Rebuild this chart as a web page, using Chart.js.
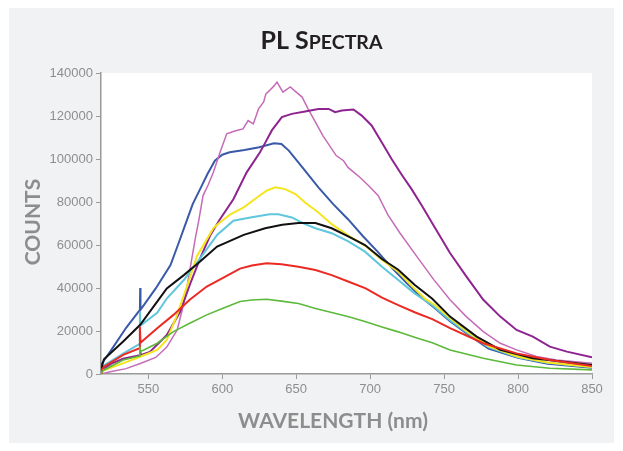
<!DOCTYPE html>
<html>
<head>
<meta charset="utf-8">
<script src="https://cdn.jsdelivr.net/npm/chart.js@4.4.0/dist/chart.umd.min.js"></script>
<style>
html, body { margin: 0; padding: 0; background: #fff; }
</style>
</head>
<body>
<canvas id="plSpectra" width="623" height="451"></canvas>
<script>
// tick values
const xTicks = [550, 600, 650, 700, 750, 800, 850];
const yTicks = [0, 20000, 40000, 60000, 80000, 100000, 120000, 140000];

// spectra (wavelength nm / counts)
const blueNm = [518, 518.7, 525, 535, 544.3, 544.5, 544.7, 555, 565, 570, 575, 580, 585, 590, 595, 600, 605, 615, 625, 635, 640, 645, 655, 665, 675, 685, 695, 705, 715, 725, 735, 744, 754, 765, 780, 800, 820, 850];
const blueCounts = [0, 5000, 11200, 21500, 29800, 40000, 29800, 39800, 50700, 60000, 69500, 79000, 86000, 93000, 99200, 102000, 103100, 104200, 105500, 107300, 107000, 103900, 95400, 86800, 79000, 72000, 64200, 56900, 49100, 42100, 35500, 30500, 24500, 19000, 11800, 7500, 4800, 2900];

const pinkNm = [518, 525, 535, 545, 555, 562.5, 569.5, 573, 576, 579, 582, 584, 587, 590.5, 594, 598.5, 603, 607.5, 611, 614, 617.5, 621, 624.5, 628, 629.5, 632, 635, 637, 641, 646, 650, 654, 658, 663, 668, 674, 677, 682, 685, 689, 693, 699, 705.5, 709, 712, 720, 731.5, 743, 754, 765, 776.5, 788, 799, 812.5, 826, 850];
const pinkCounts = [0, 1200, 2500, 5000, 7700, 12500, 20500, 30000, 40000, 52000, 64000, 71000, 83000, 88000, 93800, 103100, 111700, 112800, 113500, 114000, 117900, 116300, 123300, 126500, 130300, 131900, 134000, 135800, 131100, 133500, 131100, 128800, 123300, 117100, 110900, 104700, 101600, 99200, 96100, 93800, 91500, 87600, 82900, 78100, 74000, 65700, 54700, 43900, 34500, 26700, 19700, 14300, 11200, 8100, 6500, 5000];

const purpleNm = [518, 519, 525, 533, 544.3, 544.5, 544.7, 551, 562.5, 571.5, 578, 585, 592, 598, 607.5, 616.5, 625.5, 629, 633.5, 640.3, 647, 656, 665, 672, 676.3, 680.8, 688.7, 694.3, 701, 707.8, 714.5, 721, 728, 735, 743, 754, 765, 776.5, 788, 799, 810, 821.5, 833, 850];
const purpleCounts = [0, 2000, 4800, 7100, 8700, 10500, 8700, 10300, 18100, 28900, 41400, 53800, 64700, 71500, 81300, 93800, 103100, 107500, 113300, 119500, 121000, 122100, 123300, 123300, 121800, 122600, 123000, 120200, 115600, 107800, 100000, 93000, 86000, 78300, 69000, 56300, 45400, 34500, 26700, 20500, 17400, 12700, 10400, 7800];

const yellowNm = [518, 519, 525, 535, 544.5, 556, 562.5, 569, 577, 583, 589, 594, 597.5, 605.5, 614.5, 623.5, 630, 636, 642.5, 649.5, 656, 665, 674, 685, 697, 708, 719, 728, 737, 744, 754, 765, 780, 800, 820, 850];
const yellowCounts = [0, 1500, 3000, 5500, 8000, 11200, 15900, 26700, 42500, 55000, 62000, 67800, 70000, 74300, 77500, 82100, 85300, 86800, 86000, 83700, 79800, 75100, 69700, 64500, 59500, 53000, 47600, 41000, 35100, 32000, 26000, 20000, 13000, 8000, 5300, 3300];

const cyanNm = [518, 519, 520, 533, 544, 544.3, 544.7, 556, 562.5, 574, 585, 596.5, 607.5, 619, 632, 638, 647, 656, 663, 674, 685.5, 696.5, 708, 719, 730, 742, 754, 765, 780, 800, 820, 850];
const cyanCounts = [0, 2500, 4000, 9500, 14000, 29000, 22500, 28500, 35100, 43700, 53800, 64700, 71300, 72800, 74300, 74300, 72800, 69700, 67800, 65500, 61600, 56900, 49900, 43700, 37500, 32000, 25000, 19500, 12500, 7800, 5200, 3200];

const blackNm = [518, 519, 520, 533, 544.5, 555, 562.5, 574, 585, 596.5, 614.5, 629, 640.5, 651.5, 663, 674, 685.5, 696.5, 708, 719, 730, 742, 754, 772, 788, 810, 850];
const blackCounts = [0, 4500, 6800, 15100, 22900, 32700, 39800, 46000, 52300, 59300, 64700, 67800, 69400, 70200, 70200, 67800, 63900, 60000, 53500, 48500, 41500, 35000, 26700, 17400, 11200, 7300, 4200];

const redNm = [518, 518.5, 520, 533, 544, 544.3, 544.7, 547, 556, 567, 578, 589.5, 600.5, 612, 620, 630, 640, 651.5, 663, 674, 685.5, 697, 708, 719, 730.5, 742, 754, 776.5, 799, 821.5, 850];
const redCounts = [0, 2000, 3400, 8900, 12000, 22100, 14500, 15900, 21300, 27500, 34500, 40700, 44700, 49000, 50500, 51500, 51000, 49900, 48400, 46000, 42900, 39800, 35500, 32000, 28600, 25500, 21300, 14300, 9600, 6500, 3700];

const greenNm = [518, 518.5, 520, 533, 544, 544.3, 544.7, 547, 556, 567, 578, 589.5, 600.5, 612, 620, 630, 640, 651.5, 663, 674, 685.5, 697, 708, 719, 730.5, 742, 754, 776.5, 799, 821.5, 850];
const greenCounts = [0, 1000, 1900, 6500, 8400, 12700, 10500, 11200, 14300, 19700, 23600, 27500, 30600, 33700, 34400, 34800, 33900, 32800, 30500, 28600, 26600, 24300, 21900, 19600, 17000, 14500, 11200, 7300, 4200, 2700, 1900];

function toPoints(nm, counts) {
    return nm.map((x, i) => ({ x: x, y: counts[i] }));
}

function series(nm, counts, color, width) {
    return {
        data: toPoints(nm, counts),
        borderColor: color,
        borderWidth: width,
        pointRadius: 0,
        tension: 0,
        fill: false
    };
}

const tickColor = '#8e8e8e';
const axisColor = '#9a9a9a';

// backgrounds + titles drawn by hand (small caps title, rotated axis title)
const decor = {
    id: 'decor',
    beforeDraw(chart) {
        const ctx = chart.ctx;
        const a = chart.chartArea;
        ctx.save();
        ctx.fillStyle = '#ffffff';
        ctx.fillRect(0, 0, chart.width, chart.height);
        ctx.fillStyle = '#f1f2f3';
        ctx.fillRect(9, 8, 605, 435);
        ctx.fillStyle = '#ffffff';
        ctx.fillRect(a.left, a.top, a.right - a.left, a.bottom - a.top);
        ctx.restore();
    },
    afterDraw(chart) {
        const ctx = chart.ctx;
        ctx.save();
        // title "PL Spectra" in small caps
        ctx.fillStyle = '#231f20';
        ctx.textBaseline = 'alphabetic';
        const big = 'bold 25px Lato';
        const small = 'bold 19.5px Lato';
        ctx.font = big;
        const w1 = ctx.measureText('PL S').width;
        ctx.font = small;
        const w2 = ctx.measureText('PECTRA').width;
        let x0 = 321.5 - (w1 + w2) / 2;
        ctx.font = big;
        ctx.fillText('PL S', x0, 49);
        ctx.font = small;
        ctx.fillText('PECTRA', x0 + w1, 49);

        // axis titles
        ctx.fillStyle = '#8d8d8d';
        ctx.font = 'bold 21px Lato';
        ctx.textAlign = 'center';
        ctx.fillText('WAVELENGTH (nm)', 333, 428);
        ctx.translate(40, 222);
        ctx.rotate(-Math.PI / 2);
        ctx.fillText('COUNTS', 0, 0);
        ctx.restore();
    }
};

const ctx = document.getElementById('plSpectra').getContext('2d');
new Chart(ctx, {
    type: 'line',
    data: {
        datasets: [
            series(greenNm, greenCounts, '#5cb93a', 1.6),
            series(redNm, redCounts, '#ec2a24', 2),
            series(blackNm, blackCounts, '#111111', 2),
            series(yellowNm, yellowCounts, '#f4e51d', 2),
            series(cyanNm, cyanCounts, '#5fc6dc', 2),
            series(purpleNm, purpleCounts, '#8e2490', 2),
            series(pinkNm, pinkCounts, '#c56cb8', 1.5),
            series(blueNm, blueCounts, '#3a5aa8', 2)
        ]
    },
    options: {
        responsive: false,
        animation: false,
        layout: { padding: { left: 0, right: 31, top: 73, bottom: 0 } },
        plugins: {
            legend: { display: false },
            tooltip: { enabled: false }
        },
        scales: {
            x: {
                type: 'linear',
                min: 518,
                max: 850,
                afterBuildTicks: s => { s.ticks = xTicks.map(v => ({ value: v })); },
                afterFit: s => { s.height = 77; },
                grid: { drawOnChartArea: false, drawTicks: true, tickLength: 5, color: axisColor },
                border: { display: true, color: axisColor, width: 1.5 },
                ticks: { color: tickColor, font: { family: 'Liberation Sans', size: 13 }, padding: 3, maxRotation: 0, callback: v => String(v) }
            },
            y: {
                min: 0,
                max: 140000,
                afterBuildTicks: s => { s.ticks = yTicks.map(v => ({ value: v })); },
                afterFit: s => { s.width = 101; },
                grid: { drawOnChartArea: false, drawTicks: true, tickLength: 5, color: axisColor },
                border: { display: true, color: axisColor, width: 1.5 },
                ticks: { color: tickColor, font: { family: 'Liberation Sans', size: 13 }, padding: 3, callback: v => String(v) }
            }
        }
    },
    plugins: [decor]
});
</script>
</body>
</html>
